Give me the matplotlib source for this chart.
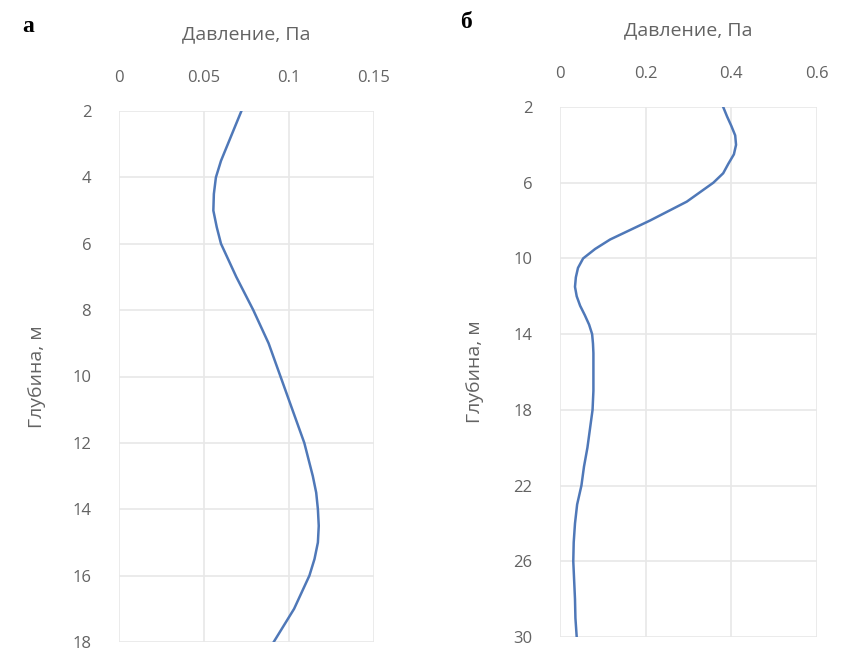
import matplotlib.pyplot as plt

# ==== DATA ====
depth_a = [2, 2.5, 3, 3.5, 4, 4.5, 5, 5.5, 6, 7, 8, 9, 10, 11, 12, 13,
           13.5, 14, 14.5, 15, 15.5, 16, 17, 18]
pressure_a = [0.072, 0.068, 0.064, 0.060, 0.057, 0.0558, 0.0555, 0.0575, 0.060,
              0.069, 0.079, 0.088, 0.095, 0.102, 0.109, 0.114,
              0.116, 0.117, 0.1175, 0.117, 0.115, 0.112, 0.103, 0.091]

depth_b = [2, 2.5, 3, 3.5, 4, 4.5, 5, 5.5, 6, 7, 8, 9, 9.5, 10, 10.5, 11,
           11.5, 12, 12.5, 13, 13.5, 14, 14.5, 15, 16, 17, 18, 19, 20, 21,
           22, 23, 24, 25, 26, 27, 28, 29, 30]
pressure_b = [0.381, 0.390, 0.400, 0.409, 0.411, 0.406, 0.393, 0.381, 0.358,
              0.296, 0.210, 0.117, 0.082, 0.054, 0.042, 0.037,
              0.035, 0.039, 0.047, 0.058, 0.068, 0.075, 0.077, 0.078, 0.078,
              0.078, 0.076, 0.070, 0.064, 0.056, 0.050, 0.040, 0.035, 0.032,
              0.031, 0.033, 0.035, 0.036, 0.039]

xticks_a = [0, 0.05, 0.1, 0.15]
xticklabels_a = ["0", "0.05", "0.1", "0.15"]
yticks_a = list(range(2, 19, 2))

xticks_b = [0, 0.2, 0.4, 0.6]
xticklabels_b = ["0", "0.2", "0.4", "0.6"]
yticks_b = list(range(2, 31, 4))

LINE = "#4f78b8"
GRID = "#e8e8e8"
TEXT = "#636363"

plt.rcParams["font.family"] = ["Open Sans", "DejaVu Sans"]

fig = plt.figure(figsize=(8.46, 6.59), dpi=100)
W, H = 846, 659


def panel(rect_px, depth, pres, xticks, xlabels, yticks, ylim, xlim, ylab_x):
    x0, y0, x1, y1 = rect_px
    ax = fig.add_axes([x0 / W, 1 - y1 / H, (x1 - x0) / W, (y1 - y0) / H])
    ax.plot(pres, depth, color=LINE, lw=1.8, solid_joinstyle="round")
    ax.set_xlim(*xlim)
    ax.set_ylim(ylim[1], ylim[0])
    ax.xaxis.tick_top()
    ax.xaxis.set_label_position("top")
    ax.set_xticks(xticks)
    ax.set_xticklabels(xlabels)
    ax.set_yticks(yticks)
    ax.tick_params(length=0, labelsize=12, labelcolor=TEXT, pad=20)
    ax.tick_params(axis="x", pad=18)
    ax.grid(True, color=GRID, lw=1.2)
    ax.set_axisbelow(True)
    for s in ax.spines.values():
        s.set_visible(False)
    ax.set_xlabel("Давление, Па", fontsize=14, color=TEXT, labelpad=22)
    ax.set_ylabel("Глубина, м", fontsize=14, color=TEXT)
    ax.yaxis.set_label_coords((ylab_x - x0) / (x1 - x0), 0.5)
    return ax


panel((119, 111, 374, 642), depth_a, pressure_a, xticks_a, xticklabels_a,
      yticks_a, (2, 18), (0, 0.15), 46)
panel((560, 107, 817, 637), depth_b, pressure_b, xticks_b, xticklabels_b,
      yticks_b, (2, 30), (0, 0.6), 484)

fig.text(22 / W, 1 - 32 / H, "а", fontsize=17, fontweight="bold",
         family="Liberation Serif", va="baseline")
fig.text(460 / W, 1 - 28 / H, "б", fontsize=17, fontweight="bold",
         family="Liberation Serif", va="baseline")

fig.savefig("out.png", dpi=100)
